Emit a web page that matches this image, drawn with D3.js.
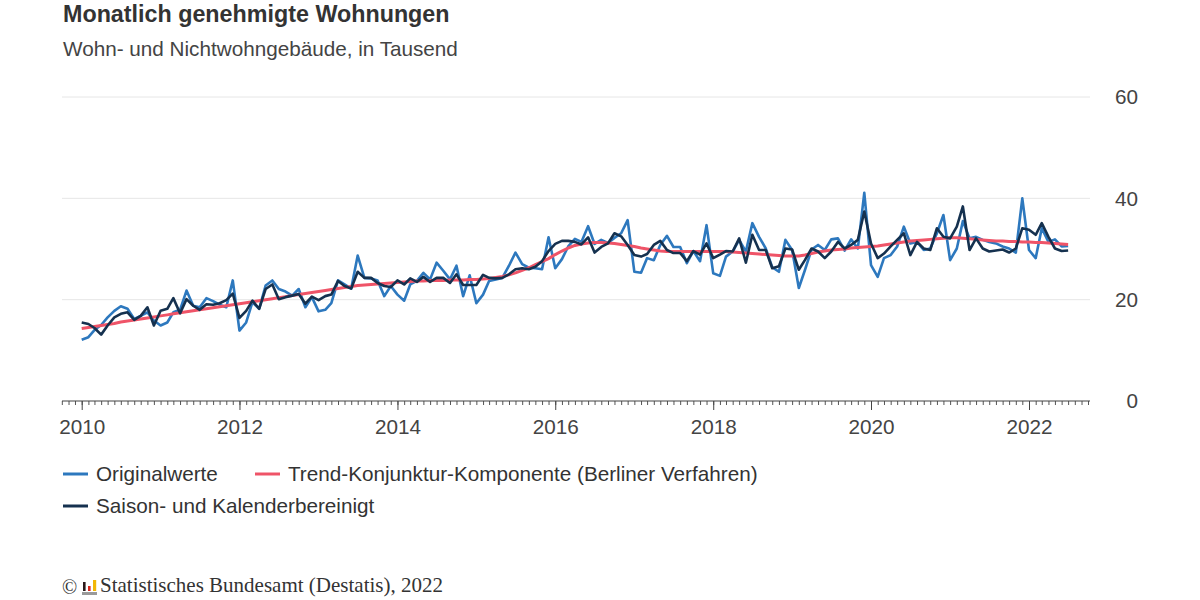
<!DOCTYPE html>
<html><head><meta charset="utf-8">
<script src="https://cdn.jsdelivr.net/npm/d3@7"></script>
<style>
html,body{margin:0;padding:0;background:#fff;}
svg{display:block;font-family:"Liberation Sans",Arial,sans-serif;}
</style></head>
<body>
<svg id="chart" width="1200" height="600"></svg>
<script>
const startYear = 2010, startMonth = 0;

const originalwerte = [
  12.1, 12.6, 14.0, 15.0, 16.5, 17.8, 18.7, 18.2, 16.2, 16.8, 17.5, 15.9,
  14.9, 15.5, 17.5, 18.0, 21.8, 18.8, 18.5, 20.3, 19.7, 19.0, 18.5, 23.8,
  13.9, 15.5, 19.5, 18.2, 22.8, 23.8, 22.1, 21.6, 20.8, 22.1, 18.5, 20.5,
  17.7, 18.0, 19.3, 23.8, 23.0, 22.2, 28.7, 24.3, 24.2, 23.8, 20.7, 22.7,
  21.0, 19.8, 23.0, 23.7, 25.3, 24.0, 27.3, 25.7, 24.0, 26.7, 20.7, 24.8,
  19.3, 21.0, 23.7, 24.0, 24.3, 26.7, 29.3, 27.0, 26.3, 26.2, 26.0, 32.3,
  26.2, 28.0, 30.5, 32.0, 31.4, 34.5, 31.0, 31.8, 31.2, 32.2, 33.1, 35.7,
  25.5, 25.3, 28.2, 27.8, 30.8, 32.6, 30.4, 30.4, 27.2, 29.6, 27.6, 34.7,
  25.2, 24.7, 28.5, 29.5, 31.8, 29.5, 35.1, 32.4, 30.1, 26.4, 25.5, 31.8,
  29.8, 22.3, 25.8, 29.9, 30.8, 29.8, 31.9, 32.1, 29.7, 31.9, 30.1, 41.1,
  26.8, 24.5, 28.2, 28.8, 30.5, 34.4, 31.1, 31.4, 29.8, 30.1, 33.1, 36.7,
  27.8, 30.1, 35.5, 32.1, 32.4, 31.8, 31.4, 31.1, 30.5, 30.1, 29.3, 40.0,
  29.8, 28.2, 34.1, 31.4, 31.9, 30.5, 30.6
];

const trendKomponente = [
  14.3, 14.5, 14.7, 14.9, 15.1, 15.3, 15.6, 15.8, 16.0, 16.2, 16.4, 16.6,
  16.8, 17.0, 17.2, 17.4, 17.6, 17.8, 18.0, 18.2, 18.4, 18.6, 18.8, 19.0,
  19.2, 19.4, 19.6, 19.8, 20.0, 20.2, 20.4, 20.6, 20.8, 21.0, 21.2, 21.4,
  21.6, 21.8, 22.0, 22.2, 22.4, 22.6, 22.8, 22.9, 23.0, 23.1, 23.2, 23.3,
  23.4, 23.5, 23.6, 23.7, 23.7, 23.8, 23.8, 23.8, 23.9, 23.9, 23.9, 24.0,
  24.0, 24.1, 24.2, 24.4, 24.6, 24.9, 25.3, 25.8, 26.3, 26.9, 27.5, 28.1,
  28.9, 29.6, 30.2, 30.7, 31.0, 31.2, 31.3, 31.3, 31.2, 31.1, 30.9, 30.7,
  30.5, 30.2, 30.0, 29.8, 29.6, 29.5, 29.5, 29.5, 29.5, 29.5, 29.5, 29.5,
  29.5, 29.5, 29.5, 29.4, 29.3, 29.2, 29.1, 29.0, 28.9, 28.8, 28.7, 28.6,
  28.6, 28.6, 28.8, 29.1, 29.4, 29.6, 29.8, 29.9, 30.0, 30.2, 30.3, 30.4,
  30.5, 30.6, 30.8, 31.0, 31.2, 31.4, 31.6, 31.7, 31.8, 31.9, 32.0, 32.1,
  32.2, 32.2, 32.1, 32.0, 31.9, 31.8, 31.7, 31.6, 31.6, 31.5, 31.5, 31.4,
  31.4, 31.3, 31.3, 31.2, 31.1, 31.0, 30.9
];

const saisonbereinigt = [
  15.5, 15.2, 14.4, 13.1, 14.9, 16.5, 17.2, 17.5, 16.0, 16.8, 18.5, 14.9,
  17.8, 18.2, 20.3, 17.3, 20.1, 18.8, 18.0, 19.1, 19.0, 19.3, 19.9, 21.2,
  16.4, 17.8, 19.8, 18.2, 22.1, 23.0, 20.1, 20.5, 20.8, 21.1, 19.2, 20.6,
  19.9, 20.7, 21.0, 23.7, 22.7, 22.2, 25.5, 24.3, 24.3, 23.3, 22.7, 22.5,
  23.8, 23.0, 24.2, 23.5, 24.5, 23.5, 24.3, 24.3, 23.3, 25.0, 22.9, 22.9,
  22.9, 24.9, 24.3, 24.2, 24.3, 25.0, 26.0, 26.2, 26.0, 26.5, 27.6, 29.6,
  31.0, 31.6, 31.6, 31.4, 30.9, 32.3, 29.3, 30.4, 31.1, 33.1, 32.5, 30.8,
  28.8, 28.5, 29.0, 30.8, 31.6, 29.8, 29.2, 29.2, 27.6, 29.6, 28.9, 31.1,
  28.2, 28.9, 29.6, 29.5, 32.1, 27.3, 32.8, 29.8, 29.8, 26.2, 26.6, 30.1,
  29.9, 25.9, 27.8, 30.1, 29.5, 28.2, 29.5, 31.4, 30.1, 30.8, 31.8, 37.4,
  31.1, 28.2, 29.1, 30.5, 31.8, 33.1, 28.8, 31.4, 30.1, 29.8, 34.1, 32.4,
  32.1, 34.4, 38.4, 29.8, 32.1, 30.1, 29.5, 29.7, 29.9, 29.3, 30.1, 34.1,
  33.8, 32.8, 35.1, 32.4, 30.1, 29.6, 29.7
];

const yTicks = [0, 20, 40, 60];
const xLabelYears = [2010, 2012, 2014, 2016, 2018, 2020, 2022];
const seriesNames = ["Originalwerte", "Trend-Konjunktur-Komponente (Berliner Verfahren)", "Saison- und Kalenderbereinigt"];
const colors = {orig: "#2d78be", trend: "#ef5468", sa: "#15314f"};

const svg = d3.select("#chart");
const dateOf = i => new Date(startYear, startMonth + i, 1);

const xBase = d3.scaleTime()
  .domain([new Date(2010, 0, 1), new Date(2022, 0, 1)])
  .range([81.7, 1029]);
const axisStart = new Date(2009, 9, 1), axisEnd = new Date(2022, 9, 1);
const x = d3.scaleTime()
  .domain([axisStart, axisEnd])
  .range([xBase(axisStart), xBase(axisEnd)]);
const y = d3.scaleLinear().domain([0, 60]).range([401, 97]);
const plotLeft = 62, plotRight = 1090;
const fs = 20.7;

// Title
svg.append("text").attr("x", 63).attr("y", 22)
  .attr("font-size", 23.3).attr("font-weight", "bold").attr("fill", "#333")
  .text("Monatlich genehmigte Wohnungen");
svg.append("text").attr("x", 63).attr("y", 56)
  .attr("font-size", fs).attr("fill", "#444")
  .text("Wohn- und Nichtwohngebäude, in Tausend");

// Grid
svg.append("g").selectAll("line").data(yTicks.filter(d => d > 0)).join("line")
  .attr("x1", plotLeft).attr("x2", plotRight)
  .attr("y1", d => y(d)).attr("y2", d => y(d))
  .attr("stroke", "#e6e6e6").attr("stroke-width", 1);

// Y labels (right)
svg.append("g").selectAll("text").data(yTicks).join("text")
  .attr("x", 1138).attr("y", d => y(d)).attr("dy", "0.35em")
  .attr("text-anchor", "end").attr("font-size", fs).attr("fill", "#444")
  .text(d => d);

// X axis: minor monthly ticks
const minorAxis = d3.axisBottom(x)
  .ticks(d3.timeMonth.every(1))
  .tickSize(4).tickFormat("");
const gMinor = svg.append("g").attr("transform", "translate(0,401)").call(minorAxis);
gMinor.select(".domain").remove();
gMinor.selectAll(".tick line").attr("stroke", "#555");

const majorAxis = d3.axisBottom(x)
  .tickValues(xLabelYears.map(yr => new Date(yr, 0, 1)))
  .tickSize(9).tickPadding(9).tickFormat(d3.timeFormat("%Y"));
const gMajor = svg.append("g").attr("transform", "translate(0,401)").call(majorAxis);
gMajor.select(".domain").remove();
gMajor.selectAll(".tick line").attr("stroke", "#444");
gMajor.selectAll(".tick text").attr("font-size", fs).attr("fill", "#444")
  .attr("font-family", "Liberation Sans, Arial, sans-serif");

svg.append("line").attr("x1", plotLeft).attr("x2", plotRight)
  .attr("y1", 401).attr("y2", 401).attr("stroke", "#444").attr("stroke-width", 1.2);

// Lines
const line = d3.line().x((d, i) => x(dateOf(i))).y(d => y(d));
svg.append("path").datum(originalwerte).attr("d", line)
  .attr("fill", "none").attr("stroke", colors.orig).attr("stroke-width", 2.6)
  .attr("stroke-linejoin", "round");
svg.append("path").datum(trendKomponente).attr("d", line)
  .attr("fill", "none").attr("stroke", colors.trend).attr("stroke-width", 3)
  .attr("stroke-linejoin", "round");
svg.append("path").datum(saisonbereinigt).attr("d", line)
  .attr("fill", "none").attr("stroke", colors.sa).attr("stroke-width", 2.6)
  .attr("stroke-linejoin", "round");

// Legend
const legendItems = [
  {name: seriesNames[0], color: colors.orig, x: 63, y: 474},
  {name: seriesNames[1], color: colors.trend, x: 255, y: 474},
  {name: seriesNames[2], color: colors.sa, x: 63, y: 506}
];
const lg = svg.append("g").selectAll("g").data(legendItems).join("g")
  .attr("transform", d => `translate(${d.x},${d.y})`);
lg.append("line").attr("x1", 0).attr("x2", 25).attr("y1", 0).attr("y2", 0)
  .attr("stroke", d => d.color).attr("stroke-width", 3);
lg.append("text").attr("x", 33).attr("dy", "0.35em")
  .attr("font-size", fs).attr("fill", "#333").text(d => d.name);

// Footer
const f = svg.append("g");
f.append("text").attr("x", 62).attr("y", 594).attr("font-family", "Liberation Serif, serif")
  .attr("font-size", 20).attr("fill", "#333").text("©");
f.append("rect").attr("x", 83).attr("y", 582).attr("width", 2.6).attr("height", 9).attr("fill", "#2a1a1a");
f.append("rect").attr("x", 88).attr("y", 586).attr("width", 2.6).attr("height", 5).attr("fill", "#d9261c");
f.append("rect").attr("x", 93).attr("y", 580).attr("width", 3.2).attr("height", 11).attr("fill", "#f2b705");
f.append("rect").attr("x", 82).attr("y", 592).attr("width", 15).attr("height", 3).attr("fill", "#9a9a9a");
f.append("text").attr("x", 100).attr("y", 592).attr("font-family", "Liberation Serif, serif")
  .attr("font-size", 21).attr("fill", "#333").text("Statistisches Bundesamt (Destatis), 2022");
</script>
</body></html>
